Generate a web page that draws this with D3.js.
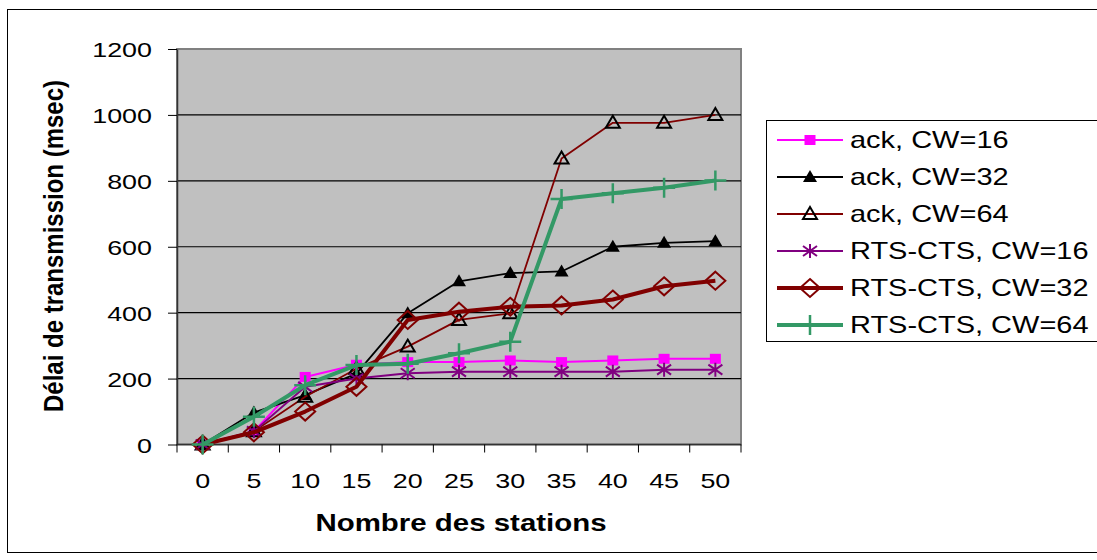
<!DOCTYPE html>
<html><head><meta charset="utf-8">
<script src="https://cdn.jsdelivr.net/npm/d3@7"></script>
<style>body{margin:0;background:#fff}svg{display:block;font-family:Arial,"Liberation Sans",sans-serif}</style>
</head><body>
<svg id="c" width="1097" height="560"></svg>
<script>
const categories = [0, 5, 10, 15, 20, 25, 30, 35, 40, 45, 50];
const yTicks = [0, 200, 400, 600, 800, 1000, 1200];
const seriesNames = ["ack, CW=16", "ack, CW=32", "ack, CW=64", "RTS-CTS, CW=16", "RTS-CTS, CW=32", "RTS-CTS, CW=64"];
const ack16 = [0, 40, 205, 242, 250, 250, 255, 250, 255, 260, 260];
const ack32 = [0, 97, 150, 215, 398, 495, 520, 525, 600, 612, 617];
const ack64 = [0, 40, 145, 230, 297, 378, 398, 868, 976, 976, 1000];
const rts16 = [0, 40, 175, 200, 216, 221, 221, 221, 221, 227, 227];
const rts32 = [0, 37, 100, 175, 378, 403, 418, 422, 440, 480, 497];
const rts64 = [0, 84, 180, 241, 245, 277, 312, 745, 762, 779, 801];
const xTitle = "Nombre des stations";
const yTitle = "Délai de transmission (msec)";

const SX = 1.28; // horizontal glyph stretch of the original rendering
const svg = d3.select("#c");
const L = 177, R = 741, T = 49, B = 444.5;

// outer frame
svg.append("rect").attr("x", 7.5).attr("y", 9.5).attr("width", 1095).attr("height", 543)
  .attr("fill", "#fff").attr("stroke", "#000").attr("stroke-width", 1);

const x = d3.scalePoint().domain(categories).range([L, R]).padding(0.5);
const y = d3.scaleLinear().domain([0, 1200]).range([B, T]);

// plot area
svg.append("rect").attr("x", L).attr("y", T).attr("width", R - L).attr("height", B - T)
  .attr("fill", "#c0c0c0").attr("stroke", "#808080").attr("stroke-width", 2);

// gridlines
svg.append("g").selectAll("line").data(yTicks.filter(d => d > 0 && d < 1200)).join("line")
  .attr("x1", L).attr("x2", R).attr("y1", d => y(d)).attr("y2", d => y(d))
  .attr("stroke", "#000").attr("stroke-width", 1.2);

// y axis
const gy = svg.append("g").attr("transform", `translate(${L},0)`)
  .call(d3.axisLeft(y).tickValues(yTicks).tickFormat(d3.format("d")).tickSize(9).tickSizeOuter(0));
gy.select(".domain").attr("stroke", "#333").attr("stroke-width", 1.5);
gy.selectAll(".tick line").attr("stroke", "#000");
gy.selectAll(".tick text").attr("x", null).attr("dy", "0.36em")
  .attr("transform", `translate(-25,0) scale(${SX},1)`)
  .attr("font-size", 21).attr("fill", "#000").attr("font-family", "Arial, 'Liberation Sans', sans-serif");

// x axis with ticks between categories
const step = x.step();
const bounds = d3.range(categories.length + 1).map(i => L + i * step);
const gx = svg.append("g");
gx.append("line").attr("x1", L).attr("x2", R).attr("y1", B).attr("y2", B).attr("stroke", "#333").attr("stroke-width", 1.5);
gx.selectAll("line.t").data(bounds).join("line").attr("class", "t")
  .attr("x1", d => d).attr("x2", d => d).attr("y1", B).attr("y2", B + 8).attr("stroke", "#000");
gx.selectAll("text").data(categories).join("text")
  .attr("transform", d => `translate(${x(d)},488) scale(${SX},1)`)
  .attr("text-anchor", "middle").attr("font-size", 21).text(d => d);

// titles
svg.append("text").attr("transform", `translate(461,531) scale(${SX},1)`)
  .attr("text-anchor", "middle").attr("font-size", 23).attr("font-weight", "bold").text(xTitle);
svg.append("text").attr("transform", `translate(63,246) scale(1.15,1) rotate(-90)`)
  .attr("text-anchor", "middle").attr("font-size", 24).attr("font-weight", "bold").text(yTitle);

// markers
const markers = {
  square: g => g.append("rect").attr("x", -5.5).attr("y", -5).attr("width", 11).attr("height", 10).attr("fill", "#ff00ff"),
  triFill: g => g.append("path").attr("d", "M0,-7L7,5L-7,5Z").attr("fill", "#000"),
  triOpen: g => g.append("path").attr("d", "M0,-7L7,5L-7,5Z").attr("fill", "none").attr("stroke", "#000").attr("stroke-width", 2),
  star: g => g.append("path").attr("d", "M0,-7V7M-7,-5L7,5M-7,5L7,-5").attr("stroke", "#800080").attr("stroke-width", 2).attr("fill", "none"),
  diamond: g => g.append("path").attr("d", "M0,-9L10,0L0,9L-10,0Z").attr("fill", "none").attr("stroke", "#800000").attr("stroke-width", 2),
  plus: g => g.append("path").attr("d", "M-11,0H11M0,-10V10").attr("stroke", "#339966").attr("stroke-width", 2.5).attr("fill", "none")
};

const series = [
  {name: seriesNames[0], values: ack16, color: "#ff00ff", width: 2, marker: "square"},
  {name: seriesNames[1], values: ack32, color: "#000000", width: 1.8, marker: "triFill"},
  {name: seriesNames[2], values: ack64, color: "#800000", width: 1.8, marker: "triOpen"},
  {name: seriesNames[3], values: rts16, color: "#800080", width: 2, marker: "star"},
  {name: seriesNames[4], values: rts32, color: "#800000", width: 4, marker: "diamond"},
  {name: seriesNames[5], values: rts64, color: "#339966", width: 4, marker: "plus"}
];

const line = d3.line().x((d, i) => x(categories[i])).y(d => y(d));
series.forEach(s => {
  const g = svg.append("g");
  g.append("path").attr("d", line(s.values)).attr("fill", "none")
    .attr("stroke", s.color).attr("stroke-width", s.width).attr("stroke-linejoin", "round");
  s.values.forEach((v, i) => {
    const m = g.append("g").attr("transform", `translate(${x(categories[i])},${y(v)})`);
    markers[s.marker](m);
  });
});

// legend
const lg = svg.append("g");
lg.append("rect").attr("x", 766.5).attr("y", 120.5).attr("width", 340).attr("height", 221)
  .attr("fill", "#fff").attr("stroke", "#000").attr("stroke-width", 1);
series.forEach((s, i) => {
  const cy = 140 + i * 37;
  lg.append("line").attr("x1", 777).attr("x2", 843).attr("y1", cy).attr("y2", cy)
    .attr("stroke", s.color).attr("stroke-width", s.width);
  const m = lg.append("g").attr("transform", `translate(810,${cy})`);
  markers[s.marker](m);
  lg.append("text").attr("transform", `translate(850,${cy + 8}) scale(1.26,1)`)
    .attr("font-size", 23).text(s.name);
});
</script>
</body></html>
